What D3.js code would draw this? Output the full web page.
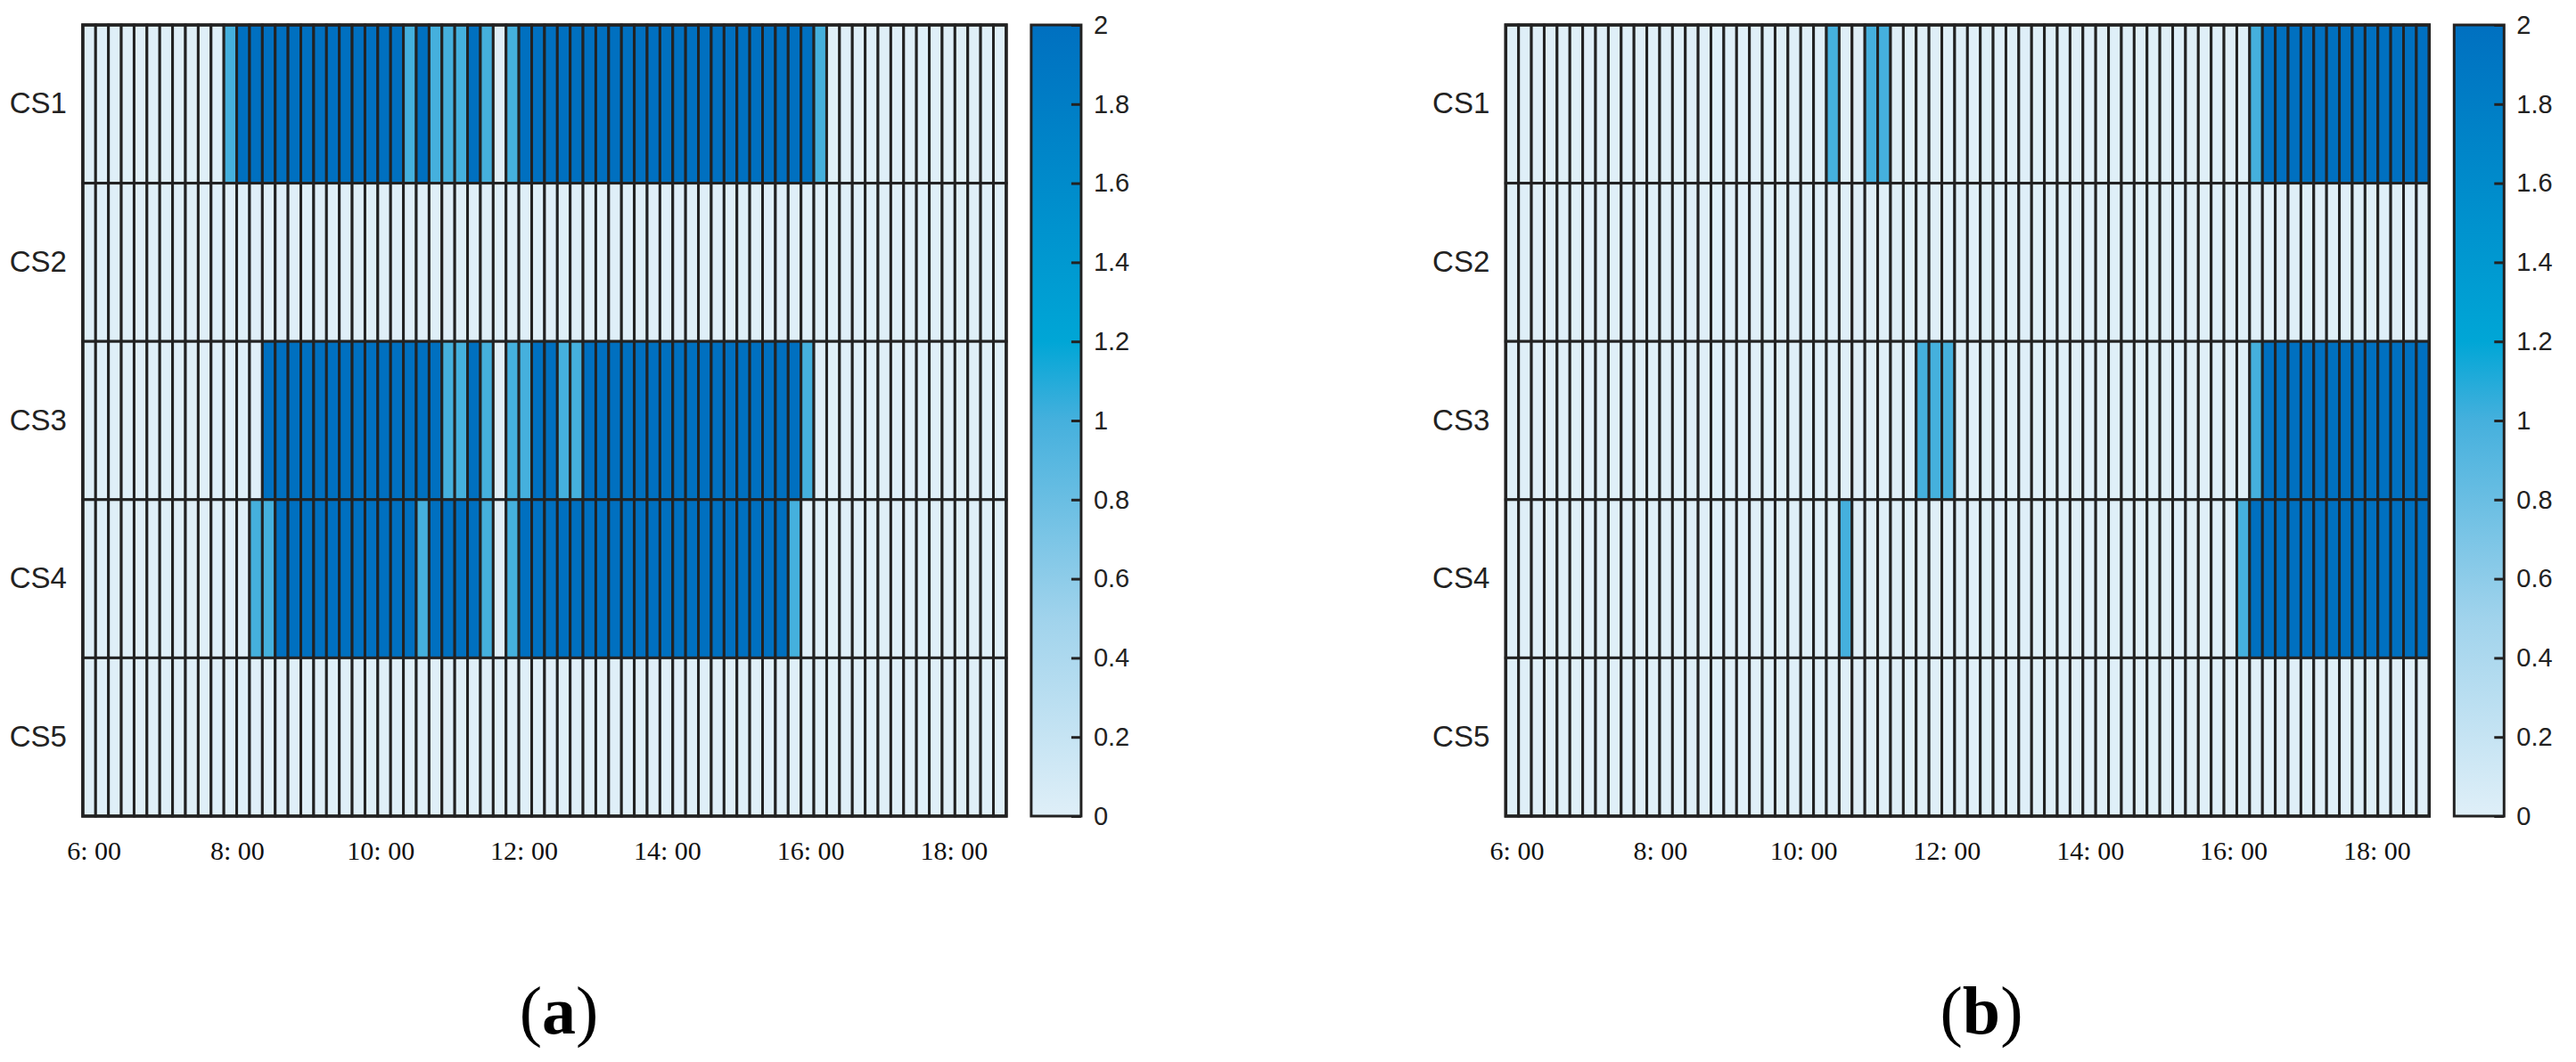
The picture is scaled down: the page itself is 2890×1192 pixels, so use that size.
<!DOCTYPE html>
<html>
<head>
<meta charset="utf-8">
<script src="https://cdn.jsdelivr.net/npm/d3@7"></script>
<style>
	body { margin:0; background:#fff; }
	.cell { stroke:#222; stroke-width:3; }
	.ylab text { font-family:"Liberation Sans", Arial, sans-serif; font-size:33px; fill:#222; }
	.xlab text { font-family:"Liberation Serif", "Times New Roman", serif; font-size:30px; fill:#111; }
	.cbar text { font-family:"Liberation Sans", Arial, sans-serif; font-size:29px; fill:#222; }
	.cbar line { stroke:#222; stroke-width:3; }
	.caption { font-family:"Liberation Serif", "Times New Roman", serif; font-size:76px; fill:#000; }
</style>
</head>
<body>
<div id="viz-container"></div>
<script>
// stations (rows)
var stations = ["CS1","CS2","CS3","CS4","CS5"];

// time axis labels
var tickHours = [6,8,10,12,14,16,18];
var tickLabels = ["6: 00","8: 00","10: 00","12: 00","14: 00","16: 00","18: 00"];

// colorbar ticks
var cbTicks = [0,0.2,0.4,0.6,0.8,1,1.2,1.4,1.6,1.8,2];

// colormap stops
var cmapValues = [0, 0.5, 1, 1.2, 2];
var cmapColors = ["#dfeff8", "#a0d3ec", "#45b0dd", "#00a6d6", "#0070c0"];

// (a) - 72 time slots per station
var a_CS1 = [0,0,0,0,0,0,0,0,0,0,0,1,
             2,2,2,2,2,2,2,2,2,2,2,2,
             2,1,2,1,1,1,2,1,0,1,2,2,
             2,2,2,2,2,2,2,2,2,2,2,2,
             2,2,2,2,2,2,2,2,2,1,0,0,
             0,0,0,0,0,0,0,0,0,0,0,0];
var a_CS2 = [0,0,0,0,0,0,0,0,0,0,0,0,
             0,0,0,0,0,0,0,0,0,0,0,0,
             0,0,0,0,0,0,0,0,0,0,0,0,
             0,0,0,0,0,0,0,0,0,0,0,0,
             0,0,0,0,0,0,0,0,0,0,0,0,
             0,0,0,0,0,0,0,0,0,0,0,0];
var a_CS3 = [0,0,0,0,0,0,0,0,0,0,0,0,
             0,0,2,2,2,2,2,2,2,2,2,2,
             2,2,2,2,1,1,2,1,0,1,1,2,
             2,1,1,2,2,2,2,2,2,2,2,2,
             2,2,2,2,2,2,2,2,1,0,0,0,
             0,0,0,0,0,0,0,0,0,0,0,0];
var a_CS4 = [0,0,0,0,0,0,0,0,0,0,0,0,
             0,1,1,2,2,2,2,2,2,2,2,2,
             2,2,1,2,2,2,2,1,0,1,2,2,
             2,2,2,2,2,2,2,2,2,2,2,2,
             2,2,2,2,2,2,2,1,0,0,0,0,
             0,0,0,0,0,0,0,0,0,0,0,0];
var a_CS5 = [0,0,0,0,0,0,0,0,0,0,0,0,
             0,0,0,0,0,0,0,0,0,0,0,0,
             0,0,0,0,0,0,0,0,0,0,0,0,
             0,0,0,0,0,0,0,0,0,0,0,0,
             0,0,0,0,0,0,0,0,0,0,0,0,
             0,0,0,0,0,0,0,0,0,0,0,0];

// (b)
var b_CS1 = [0,0,0,0,0,0,0,0,0,0,0,0,
             0,0,0,0,0,0,0,0,0,0,0,0,
             0,1,0,0,1,1,0,0,0,0,0,0,
             0,0,0,0,0,0,0,0,0,0,0,0,
             0,0,0,0,0,0,0,0,0,0,1,2,
             2,2,2,2,2,2,2,2,2,2,2,2];
var b_CS2 = [0,0,0,0,0,0,0,0,0,0,0,0,
             0,0,0,0,0,0,0,0,0,0,0,0,
             0,0,0,0,0,0,0,0,0,0,0,0,
             0,0,0,0,0,0,0,0,0,0,0,0,
             0,0,0,0,0,0,0,0,0,0,0,0,
             0,0,0,0,0,0,0,0,0,0,0,0];
var b_CS3 = [0,0,0,0,0,0,0,0,0,0,0,0,
             0,0,0,0,0,0,0,0,0,0,0,0,
             0,0,0,0,0,0,0,0,1,1,1,0,
             0,0,0,0,0,0,0,0,0,0,0,0,
             0,0,0,0,0,0,0,0,0,0,1,2,
             2,2,2,2,2,2,2,2,2,2,2,2];
var b_CS4 = [0,0,0,0,0,0,0,0,0,0,0,0,
             0,0,0,0,0,0,0,0,0,0,0,0,
             0,0,1,0,0,0,0,0,0,0,0,0,
             0,0,0,0,0,0,0,0,0,0,0,0,
             0,0,0,0,0,0,0,0,0,1,2,2,
             2,2,2,2,2,2,2,2,2,2,2,2];
var b_CS5 = [0,0,0,0,0,0,0,0,0,0,0,0,
             0,0,0,0,0,0,0,0,0,0,0,0,
             0,0,0,0,0,0,0,0,0,0,0,0,
             0,0,0,0,0,0,0,0,0,0,0,0,
             0,0,0,0,0,0,0,0,0,0,0,0,
             0,0,0,0,0,0,0,0,0,0,0,0];

var panelA = [a_CS1, a_CS2, a_CS3, a_CS4, a_CS5];
var panelB = [b_CS1, b_CS2, b_CS3, b_CS4, b_CS5];

var width = 2890,
	height = 1192,
	plotW = 1036,
	plotH = 888,
	marginTop = 28,
	nSlots = 72;

var svg = d3.select('#viz-container')
		.append('svg')
			.attr('width', width)
			.attr('height', height);

var color = d3.scaleLinear()
		.domain(cmapValues)
		.range(cmapColors)
		.interpolate(d3.interpolateRgb);

// shared gradient for colorbars
var grad = svg.append('defs').append('linearGradient')
		.attr('id', 'cmap')
		.attr('x1', 0).attr('y1', 1).attr('x2', 0).attr('y2', 0);
grad.selectAll('stop')
	.data(cmapValues)
	.enter().append('stop')
		.attr('offset', function(d){ return d / 2; })
		.attr('stop-color', function(d, i){ return cmapColors[i]; });

function cleanAxis(a) {
	a.select('.domain').remove();
	a.selectAll('text').attr('font-size', null).attr('font-family', null);
}

function makeHeatmap(left, rows, caption, capX) {
	var g = svg.append('g')
		.attr('transform', 'translate(' + left + ',' + marginTop + ')');

	var xScale = d3.scaleLinear().domain([0, nSlots]).range([0, plotW]);
	var yScale = d3.scaleBand().domain(stations).range([0, plotH]);

	// hour ticks do not line up with slot edges, map them through slot units
	var hourScale = d3.scaleLinear().domain([6, 18]).range([xScale(0.85), xScale(67.9)]);

	var cells = [];
	rows.forEach(function(r, i){
		r.forEach(function(v, j){
			cells.push({row: stations[i], slot: j, value: v});
		});
	});

	g.selectAll('rect.cell')
		.data(cells)
		.enter().append('rect')
			.attr('class', 'cell')
			.attr('x', function(d){ return xScale(d.slot); })
			.attr('y', function(d){ return yScale(d.row); })
			.attr('width', xScale(1) - xScale(0))
			.attr('height', yScale.bandwidth())
			.attr('fill', function(d){ return color(d.value); });

	// outer frame
	g.append('rect')
		.attr('width', plotW).attr('height', plotH)
		.attr('fill', 'none').attr('stroke', '#222').attr('stroke-width', 3.5);

	// station labels
	g.append('g')
		.attr('class', 'ylab')
		.call(d3.axisLeft(yScale).tickSize(0).tickPadding(18))
		.call(cleanAxis);

	// time labels
	g.append('g')
		.attr('class', 'xlab')
		.attr('transform', 'translate(0,' + plotH + ')')
		.call(d3.axisBottom(hourScale)
			.tickValues(tickHours)
			.tickSize(0)
			.tickPadding(28)
			.tickFormat(function(d, i){ return tickLabels[i]; }))
		.call(cleanAxis);

	// colorbar
	var cbX = plotW + 28, cbW = 56;
	var cScale = d3.scaleLinear().domain([0, 2]).range([plotH, 0]);
	g.append('rect')
		.attr('x', cbX).attr('width', cbW).attr('height', plotH)
		.attr('fill', 'url(#cmap)').attr('stroke', '#222').attr('stroke-width', 3);
	g.append('g')
		.attr('class', 'cbar')
		.attr('transform', 'translate(' + (cbX + cbW) + ',0)')
		.call(d3.axisRight(cScale)
			.tickValues(cbTicks)
			.tickSizeInner(-11)
			.tickSizeOuter(0)
			.tickPadding(14)
			.tickFormat(d3.format('~g')))
		.call(cleanAxis);

	// panel caption, bold letter only
	var cap = svg.append('text')
		.attr('class', 'caption')
		.attr('x', capX)
		.attr('y', 1160)
		.attr('text-anchor', 'middle');
	cap.append('tspan').text('(');
	cap.append('tspan').attr('font-weight', 'bold').text(caption);
	cap.append('tspan').text(')');
}

makeHeatmap(92.9, panelA, 'a', 627);
makeHeatmap(1689.3, panelB, 'b', 2223);
</script>
</body>
</html>
